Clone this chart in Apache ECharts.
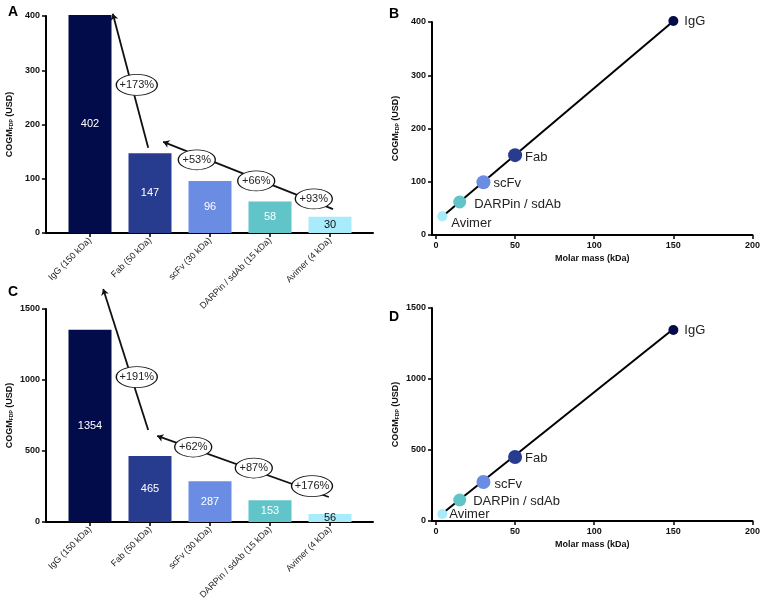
<!DOCTYPE html>
<html>
<head>
<meta charset="utf-8">
<script src="https://cdn.jsdelivr.net/npm/echarts@6/dist/echarts.min.js"></script>
<style>
  html, body { margin: 0; padding: 0; background: #fff; }
  #chart { width: 763px; height: 602px; }
</style>
</head>
<body>
<div id="chart"></div>
<script>
// COGM per molecule format - bars (A, C) and scatter vs molar mass (B, D)

const CATEGORIES = ['IgG (150 kDa)', 'Fab (50 kDa)', 'scFv (30 kDa)', 'DARPin / sdAb (15 kDa)', 'Avimer (4 kDa)'];
const SHORT_NAMES = ['IgG', 'Fab', 'scFv', 'DARPin / sdAb', 'Avimer'];
const COLORS = ['#030c4b', '#283c8f', '#6a8de3', '#60c4c9', '#a8ebfb'];
const LABEL_COLORS = ['#fff', '#fff', '#fff', '#fff', '#111'];

const COGM_A = [402, 147, 96, 58, 30];
const COGM_C = [1354, 465, 287, 153, 56];

const MASS_KDA = [150, 50, 30, 15, 4];
const SCATTER_B = [402, 150, 99, 62, 35];
const SCATTER_D = [1345, 451, 275, 148, 49];
const FIT_B = [[5, 37], [149, 399]];
const FIT_D = [[5, 62], [148, 1335]];

// arrows: [from, to] in (category index, USD)
const ARROWS_A = [[[0.97, 157], [0.38, 404]], [[4.05, 44], [1.22, 168]]];
const ARROWS_C = [[[0.97, 648], [0.22, 1641]], [[3.98, 176], [1.12, 606]]];
// increase labels: [category index, USD, text]
const TAGS_A = [[0.78, 273, '+173%'], [1.78, 135, '+53%'], [2.77, 96, '+66%'], [3.73, 63, '+93%']];
const TAGS_C = [[0.78, 1021, '+191%'], [1.72, 528, '+62%'], [2.73, 380, '+87%'], [3.70, 253, '+176%']];

const FONT = "'Liberation Sans', Arial, sans-serif";

const chart = echarts.init(document.getElementById('chart'));

const axisLine = { show: true, onZero: false, lineStyle: { color: '#000', width: 2 } };
const axisTick = { show: true, length: 4, lineStyle: { color: '#000', width: 1.5 } };
const tickLabel = { fontSize: 9, fontWeight: 'bold', color: '#111', fontFamily: FONT, margin: 6, formatter: v => String(v) };
const yName = {
  name: '{m|COGM}{s|FDP}{m| (USD)}',
  nameLocation: 'middle',
  nameRotate: 90,
  nameGap: 32,
  nameTextStyle: {
    rich: {
      m: { fontSize: 9, fontWeight: 'bold', color: '#111', fontFamily: FONT },
      s: { fontSize: 5, fontWeight: 'bold', color: '#111', fontFamily: FONT, verticalAlign: 'bottom', padding: [4, 0, 0, 0] },
    },
  },
};

// bar grids: 60px per category, first category 44px from the y axis
const BAR_W = 327;
const barMin = -44 / 60;
const barMax = barMin + BAR_W / 60;

function barX(gridIndex) {
  return {
    type: 'value', gridIndex, min: barMin, max: barMax,
    axisLine, splitLine: { show: false },
    axisTick: { ...axisTick, customValues: [0, 1, 2, 3, 4] },
    axisLabel: {
      customValues: [0, 1, 2, 3, 4], rotate: 45, fontSize: 9, color: '#222',
      fontFamily: FONT, margin: 6, formatter: v => CATEGORIES[Math.round(v)],
    },
  };
}

function massX(gridIndex) {
  return {
    type: 'value', gridIndex, min: -2.5, max: 200,
    name: 'Molar mass (kDa)', nameLocation: 'middle', nameGap: 19,
    nameTextStyle: { fontSize: 9, fontWeight: 'bold', color: '#111', fontFamily: FONT },
    axisLine, splitLine: { show: false },
    axisTick: { ...axisTick, customValues: [0, 50, 100, 150, 200] },
    axisLabel: { ...tickLabel, customValues: [0, 50, 100, 150, 200] },
  };
}

function yAx(gridIndex, max, interval) {
  return {
    type: 'value', gridIndex, min: 0, max, interval,
    ...yName, axisLine, axisTick, axisLabel: tickLabel, splitLine: { show: false },
  };
}

function barSeries(idx, values) {
  return {
    type: 'bar', xAxisIndex: idx, yAxisIndex: idx, barWidth: 43, clip: false,
    data: values.map((v, i) => ({
      value: [i, v],
      itemStyle: { color: COLORS[i] },
      label: { color: LABEL_COLORS[i] },
    })),
    label: { show: true, position: 'inside', fontSize: 11, fontFamily: FONT, formatter: p => p.value[1] },
    z: 2,
  };
}

function arrowSeries(idx, arrows) {
  return {
    type: 'lines', coordinateSystem: 'cartesian2d', xAxisIndex: idx, yAxisIndex: idx,
    clip: false, symbol: ['none', 'arrow'], symbolSize: 6,
    lineStyle: { color: '#111', width: 1.8, opacity: 1 },
    data: arrows.map(a => ({ coords: a })),
    z: 3,
  };
}

function tagSeries(idx, tags) {
  return {
    type: 'scatter', xAxisIndex: idx, yAxisIndex: idx, clip: false,
    symbol: 'circle',
    symbolSize: (v, p) => (p.data.value[2].length > 4 ? [41, 21] : [37, 20]),
    itemStyle: { color: '#fff', borderColor: '#111', borderWidth: 1, opacity: 1 },
    label: { show: true, position: 'inside', fontSize: 11, color: '#222', fontFamily: FONT, formatter: p => p.value[2] },
    data: tags.map(t => ({ value: t })),
    z: 4,
  };
}

const PT_SIZES = [10, 14, 14, 13, 10];
const PT_LABEL_B = [
  { position: 'right', distance: 6 },
  { position: 'right', distance: 3, offset: [0, 2] },
  { position: 'right', distance: 3, offset: [0, 1] },
  { position: 'right', distance: 8, offset: [0, 2] },
  { position: 'right', distance: 4, offset: [0, 7] },
];
const PT_LABEL_D = [
  { position: 'right', distance: 6 },
  { position: 'right', distance: 3, offset: [0, 1] },
  { position: 'right', distance: 4, offset: [0, 2] },
  { position: 'right', distance: 7, offset: [0, 1] },
  { position: 'right', distance: 2, offset: [0, 0] },
];

function fitSeries(idx, fit) {
  return {
    type: 'line', xAxisIndex: idx, yAxisIndex: idx, data: fit, symbol: 'none',
    lineStyle: { color: '#000', width: 2 }, z: 2,
  };
}

function pointSeries(idx, values, labels) {
  return {
    type: 'scatter', xAxisIndex: idx, yAxisIndex: idx, clip: false,
    data: values.map((v, i) => ({
      value: [MASS_KDA[i], v],
      name: SHORT_NAMES[i],
      symbolSize: PT_SIZES[i],
      itemStyle: { color: COLORS[i], opacity: 1 },
      label: labels[i],
    })),
    label: { show: true, fontSize: 13, color: '#222', fontFamily: FONT, formatter: p => p.name },
    z: 3,
  };
}

const letter = (text, left, top) => ({
  text, left, top, textStyle: { fontSize: 14, fontWeight: 'bold', color: '#000', fontFamily: FONT },
});

chart.setOption({
  animation: false,
  title: [letter('A', 3, 0), letter('B', 384, 2), letter('C', 3, 280), letter('D', 384, 305)],
  grid: [
    { left: 46, top: 16, width: BAR_W, height: 217 },
    { left: 432, top: 22, width: 323, height: 213 },
    { left: 46, top: 309, width: BAR_W, height: 213 },
    { left: 432, top: 308, width: 323, height: 213 },
  ],
  xAxis: [barX(0), massX(1), barX(2), massX(3)],
  yAxis: [yAx(0, 400, 100), yAx(1, 400, 100), yAx(2, 1500, 500), yAx(3, 1500, 500)],
  series: [
    barSeries(0, COGM_A), arrowSeries(0, ARROWS_A), tagSeries(0, TAGS_A),
    fitSeries(1, FIT_B), pointSeries(1, SCATTER_B, PT_LABEL_B),
    barSeries(2, COGM_C), arrowSeries(2, ARROWS_C), tagSeries(2, TAGS_C),
    fitSeries(3, FIT_D), pointSeries(3, SCATTER_D, PT_LABEL_D),
  ],
});
</script>
</body>
</html>
